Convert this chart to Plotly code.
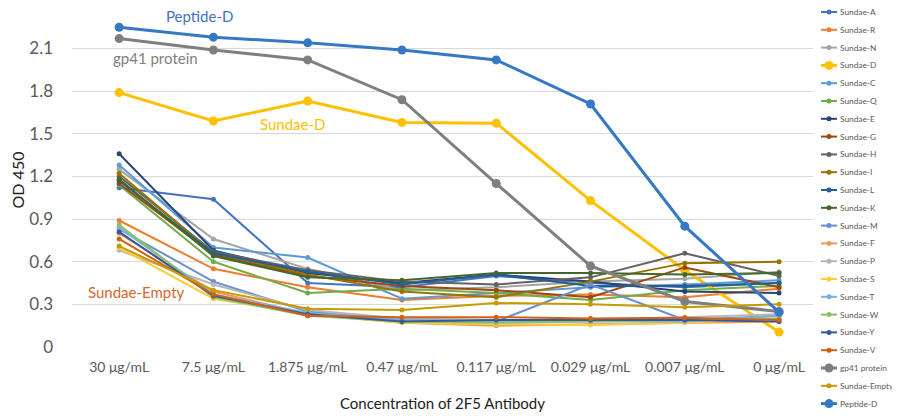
import plotly.graph_objects as go

categories = ["30 μg/mL", "7.5 μg/mL", "1.875 μg/mL", "0.47 μg/mL",
              "0.117 μg/mL", "0.029 μg/mL", "0.007 μg/mL", "0 μg/mL"]
ytick_vals = [0, 0.3, 0.6, 0.9, 1.2, 1.5, 1.8, 2.1]
ytick_text = ["0", "0.3", "0.6", "0.9", "1.2", "1.5", "1.8", "2.1"]

series_names = ["Sundae-A", "Sundae-R", "Sundae-N", "Sundae-D", "Sundae-C", "Sundae-Q",
                "Sundae-E", "Sundae-G", "Sundae-H", "Sundae-I", "Sundae-L", "Sundae-K",
                "Sundae-M", "Sundae-F", "Sundae-P", "Sundae-S", "Sundae-T", "Sundae-W",
                "Sundae-Y", "Sundae-V", "gp41 protein", "Sundae-Empty", "Peptide-D"]

sundae_a = [1.12, 1.04, 0.45, 0.42, 0.50, 0.45, 0.42, 0.45]
sundae_r = [0.89, 0.55, 0.42, 0.33, 0.36, 0.37, 0.35, 0.41]
sundae_n = [1.25, 0.76, 0.55, 0.40, 0.42, 0.46, 0.48, 0.53]
sundae_d = [1.79, 1.59, 1.73, 1.58, 1.575, 1.03, 0.54, 0.105]
sundae_c = [1.28, 0.70, 0.63, 0.34, 0.38, 0.42, 0.44, 0.47]
sundae_q = [1.14, 0.60, 0.38, 0.41, 0.38, 0.33, 0.40, 0.43]
sundae_e = [1.36, 0.68, 0.52, 0.45, 0.51, 0.46, 0.39, 0.38]
sundae_g = [1.15, 0.65, 0.50, 0.43, 0.40, 0.35, 0.56, 0.42]
sundae_h = [1.20, 0.67, 0.54, 0.46, 0.44, 0.49, 0.66, 0.50]
sundae_i = [1.22, 0.66, 0.51, 0.39, 0.35, 0.46, 0.59, 0.60]
sundae_l = [1.17, 0.66, 0.53, 0.44, 0.51, 0.43, 0.43, 0.45]
sundae_k = [1.18, 0.64, 0.49, 0.47, 0.52, 0.52, 0.51, 0.52]
sundae_m = [0.83, 0.46, 0.25, 0.19, 0.18, 0.44, 0.19, 0.22]
sundae_f = [0.80, 0.39, 0.23, 0.17, 0.15, 0.16, 0.17, 0.18]
sundae_p = [0.68, 0.44, 0.26, 0.20, 0.19, 0.19, 0.21, 0.23]
sundae_s = [0.70, 0.34, 0.23, 0.17, 0.16, 0.155, 0.17, 0.20]
sundae_t = [0.84, 0.37, 0.24, 0.19, 0.18, 0.18, 0.18, 0.22]
sundae_w = [0.86, 0.35, 0.22, 0.18, 0.17, 0.18, 0.19, 0.20]
sundae_y = [0.81, 0.36, 0.23, 0.18, 0.19, 0.19, 0.19, 0.18]
sundae_v = [0.76, 0.37, 0.22, 0.21, 0.21, 0.20, 0.205, 0.19]
gp41 = [2.17, 2.09, 2.02, 1.74, 1.15, 0.57, 0.32, 0.25]
sundae_empty = [0.71, 0.40, 0.27, 0.26, 0.31, 0.30, 0.28, 0.30]
peptide_d = [2.25, 2.18, 2.14, 2.09, 2.02, 1.71, 0.85, 0.245]

series_values = [sundae_a, sundae_r, sundae_n, sundae_d, sundae_c, sundae_q,
                 sundae_e, sundae_g, sundae_h, sundae_i, sundae_l, sundae_k,
                 sundae_m, sundae_f, sundae_p, sundae_s, sundae_t, sundae_w,
                 sundae_y, sundae_v, gp41, sundae_empty, peptide_d]

colors = ["#4472C4", "#ED7D31", "#A5A5A5", "#FFC000", "#5B9BD5", "#70AD47",
          "#264478", "#9E480E", "#636363", "#997300", "#255E91", "#43682B",
          "#698ED0", "#F1975A", "#B7B7B7", "#FFCD33", "#7CAFDD", "#8CC168",
          "#335AA1", "#D26012", "#7F7F7F", "#C79A00", "#3478C6"]

thick = {"Sundae-D", "gp41 protein", "Peptide-D"}

# figure geometry (page shows the figure inside an 8px body margin)
W, H = 884, 404
PL, PR, PT, PB = 64, 805, 5, 339          # main plot box in figure pixels
LEG_X0 = 813                              # legend column left edge
LEG_TOP, LEG_STEP = 4, 17.8               # legend row spacing

font_family = "Lato, 'Open Sans', sans-serif"
label_gray = "#595959"

fig = go.Figure()
for name, vals, col in zip(series_names, series_values, colors):
    big = name in thick
    fig.add_trace(go.Scatter(
        x=categories, y=vals, name=name, mode="lines+markers",
        line=dict(color=col, width=3 if big else 2),
        marker=dict(color=col, size=9 if big else 5),
        showlegend=False, xaxis="x", yaxis="y",
    ))

# legend column (drawn on its own hidden axes)
for i, (name, col) in enumerate(zip(series_names, colors)):
    big = name in thick
    yi = LEG_TOP + LEG_STEP * i
    fig.add_trace(go.Scatter(
        x=[0, 16], y=[yi, yi], mode="lines",
        line=dict(color=col, width=3 if big else 2),
        showlegend=False, hoverinfo="skip", xaxis="x2", yaxis="y2",
        cliponaxis=False,
    ))
    fig.add_trace(go.Scatter(
        x=[8], y=[yi], mode="markers",
        marker=dict(color=col, size=9 if big else 5),
        showlegend=False, hoverinfo="skip", xaxis="x2", yaxis="y2",
        cliponaxis=False,
    ))
    fig.add_annotation(
        text=name, xref="x2", yref="y2", x=17, y=yi,
        xanchor="left", yanchor="middle", showarrow=False,
        font=dict(size=8.3, color=label_gray, family=font_family),
    )

fig.update_layout(
    width=W, height=H,
    paper_bgcolor="white", plot_bgcolor="white",
    margin=dict(l=0, r=0, t=0, b=0, autoexpand=False),
    font=dict(family=font_family, color=label_gray),
    showlegend=False,
    xaxis=dict(
        domain=[PL / W, PR / W], anchor="y",
        type="category", range=[-0.5, 7.36],
        showgrid=False, zeroline=False, showline=False,
        tickfont=dict(size=14, color=label_gray),
        ticklabelstandoff=10,
        title=dict(text="Concentration of 2F5 Antibody",
                   font=dict(size=15, color="#222222"), standoff=25),
    ),
    yaxis=dict(
        domain=[(H - PB) / H, (H - PT) / H], anchor="x",
        range=[0, 2.35], tickvals=ytick_vals, ticktext=ytick_text,
        showgrid=True, gridcolor="#D9D9D9", gridwidth=1,
        zeroline=False, showline=False,
        tickfont=dict(size=17, color=label_gray),
        ticklabelstandoff=18,
        title=dict(text="OD 450", font=dict(size=16, color="#222222"), standoff=18),
    ),
    xaxis2=dict(domain=[LEG_X0 / W, 1.0], anchor="y2", range=[0, W - LEG_X0],
                visible=False, fixedrange=True),
    yaxis2=dict(domain=[0, 1], anchor="x2", range=[H, 0],
                visible=False, fixedrange=True),
)

ann = [
    ("Peptide-D", 191, 7.5, "#4472C4"),
    ("gp41 protein", 147, 49.5, "#7F7F7F"),
    ("Sundae-D", 284, 116.5, "#FFC000"),
    ("Sundae-Empty", 128, 284, "#D2692B"),
]
for text, px, py, col in ann:
    fig.add_annotation(
        text=text, xref="paper", yref="paper",
        x=px / W, y=1 - py / H, xanchor="center", yanchor="middle",
        showarrow=False, font=dict(size=15, color=col, family=font_family),
    )

fig.write_html("out.html")
